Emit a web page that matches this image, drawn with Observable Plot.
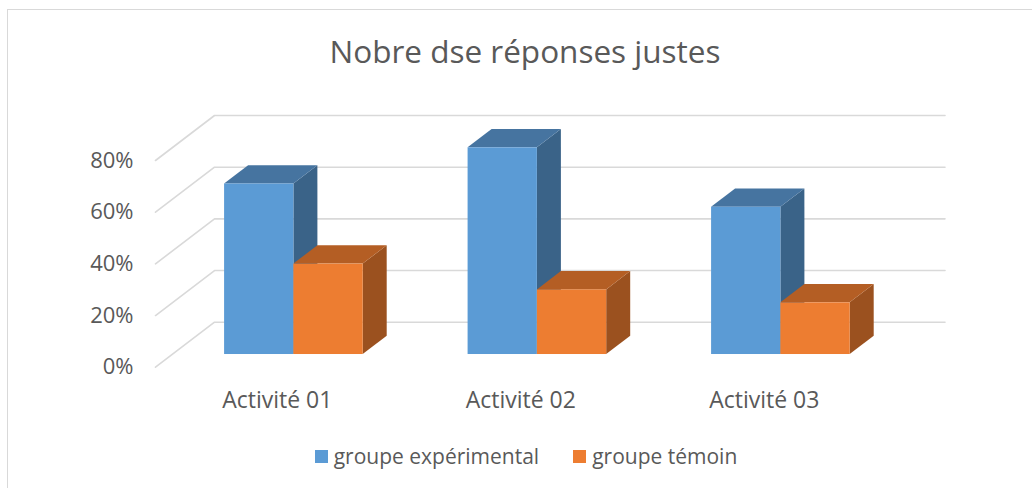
<!DOCTYPE html>
<html>
<head>
<meta charset="utf-8">
<script src="https://cdn.jsdelivr.net/npm/d3@7"></script>
<script src="https://cdn.jsdelivr.net/npm/@observablehq/plot@0.6"></script>
<style>
  html, body { margin: 0; padding: 0; background: #fff; }
  #frame { position: relative; width: 1032px; height: 488px; overflow: hidden; background: #fff; }
  #border { position: absolute; left: 7px; top: 9px; right: -2px; bottom: -2px; border-top: 1px solid #d9d9d9; border-left: 1px solid #d9d9d9; }
  #title { position: absolute; left: 9px; top: 33px; width: 1032px; text-align: center; font-family: "Open Sans", sans-serif; font-size: 31.5px; line-height: 36px; color: #595959; }
  #chart { position: absolute; left: 0; top: 90px; }
  #legend { position: absolute; left: 10px; top: 443px; width: 1032px; display: flex; justify-content: center; gap: 34px; font-family: "Open Sans", sans-serif; font-size: 21px; line-height: 26px; color: #595959; }
  .item { display: flex; align-items: center; gap: 6px; }
  .sw { width: 13px; height: 13px; display: inline-block; }
</style>
</head>
<body>
<div id="frame">
  <div id="border"></div>
  <div id="title">Nobre dse réponses justes</div>
  <div id="chart"></div>
  <div id="legend"></div>
</div>
<script>
// ---- data ----
const categories = ["Activité 01", "Activité 02", "Activité 03"];
const seriesNames = ["groupe expérimental", "groupe témoin"];
const experimental = [0.66, 0.80, 0.57];
const temoin = [0.35, 0.25, 0.20];
const yTicks = [0, 0.2, 0.4, 0.6, 0.8];

// ---- styles ----
const frontColors = ["#5b9bd5", "#ed7d31"];
const topColors = ["#4674a0", "#b45e24"];
const sideColors = ["#3a6388", "#9b511f"];
const gridColor = "#d9d9d9";
const textColor = "#595959";

// ---- layout ----
const W = 1032, H = 330;
const mL = 155, mR = 146.5, mT = 70, mB = 53.3;
const xDomain = [-0.5, categories.length - 0.5];
const yDomain = [0, 0.8];
const pxPerX = (W - mL - mR) / (xDomain[1] - xDomain[0]);
const pxPerY = (H - mT - mB) / (yDomain[1] - yDomain[0]);
// oblique depth of the floor (front to back wall), in pixels -> data units
const DX = 59 / pxPerX, DY = 45 / pxPerY;
const zFront = 0.282, zBack = 0.689; // depth of bars
const bw = 69.3 / pxPerX;            // bar width in category units

const values = [experimental, temoin];
const fronts = [], sides = [], tops = [];
categories.forEach((c, i) => {
  values.forEach((vals, s) => {
    const v = vals[i];
    const key = c + "|" + s;
    const xl = i + (s - 1) * bw + zFront * DX, xr = xl + bw;
    const yb = zFront * DY, yt = v + zFront * DY;
    const ddx = (zBack - zFront) * DX, ddy = (zBack - zFront) * DY;
    fronts.push({key, s, x1: xl, x2: xr, y1: yb, y2: yt});
    sides.push({key, s, x: xr, y1: yb, y2: yt});
    sides.push({key, s, x: xr + ddx, y1: yb + ddy, y2: yt + ddy});
    tops.push({key, s, y: yt, x1: xl, x2: xr});
    tops.push({key, s, y: yt + ddy, x1: xl + ddx, x2: xr + ddx});
  });
});

const grid = [];
yTicks.forEach(t => {
  grid.push({t, x: xDomain[0], y: t});
  grid.push({t, x: xDomain[0] + DX, y: t + DY});
  grid.push({t, x: xDomain[1] + DX, y: t + DY});
});

const plot = Plot.plot({
  width: W, height: H,
  marginLeft: mL, marginRight: mR, marginTop: mT, marginBottom: mB,
  x: {domain: xDomain, axis: null},
  y: {domain: yDomain, axis: null},
  style: {fontFamily: "Open Sans, sans-serif", color: textColor, background: "transparent"},
  marks: [
    Plot.line(grid, {x: "x", y: "y", z: "t", stroke: gridColor, strokeWidth: 1.6}),
    Plot.text(yTicks, {x: xDomain[0], y: d => d, text: d3.format(".0%"), textAnchor: "end", dx: -22, fill: textColor, fontSize: 22}),
    Plot.text(categories, {x: (d, i) => i, y: 0, text: d => d, dy: 33, dx: 0, fill: textColor, fontSize: 23}),
    Plot.areaY(sides, {x: "x", y1: "y1", y2: "y2", z: "key", fill: d => sideColors[d.s]}),
    Plot.areaX(tops, {y: "y", x1: "x1", x2: "x2", z: "key", fill: d => topColors[d.s]}),
    Plot.rect(fronts, {x1: "x1", x2: "x2", y1: "y1", y2: "y2", fill: d => frontColors[d.s], inset: 0})
  ]
});
document.getElementById("chart").appendChild(plot);

const legend = document.getElementById("legend");
seriesNames.forEach((n, s) => {
  const it = document.createElement("div");
  it.className = "item";
  const sw = document.createElement("span");
  sw.className = "sw";
  sw.style.background = frontColors[s];
  const lab = document.createElement("span");
  lab.textContent = n;
  it.appendChild(sw); it.appendChild(lab);
  legend.appendChild(it);
});
</script>
</body>
</html>
